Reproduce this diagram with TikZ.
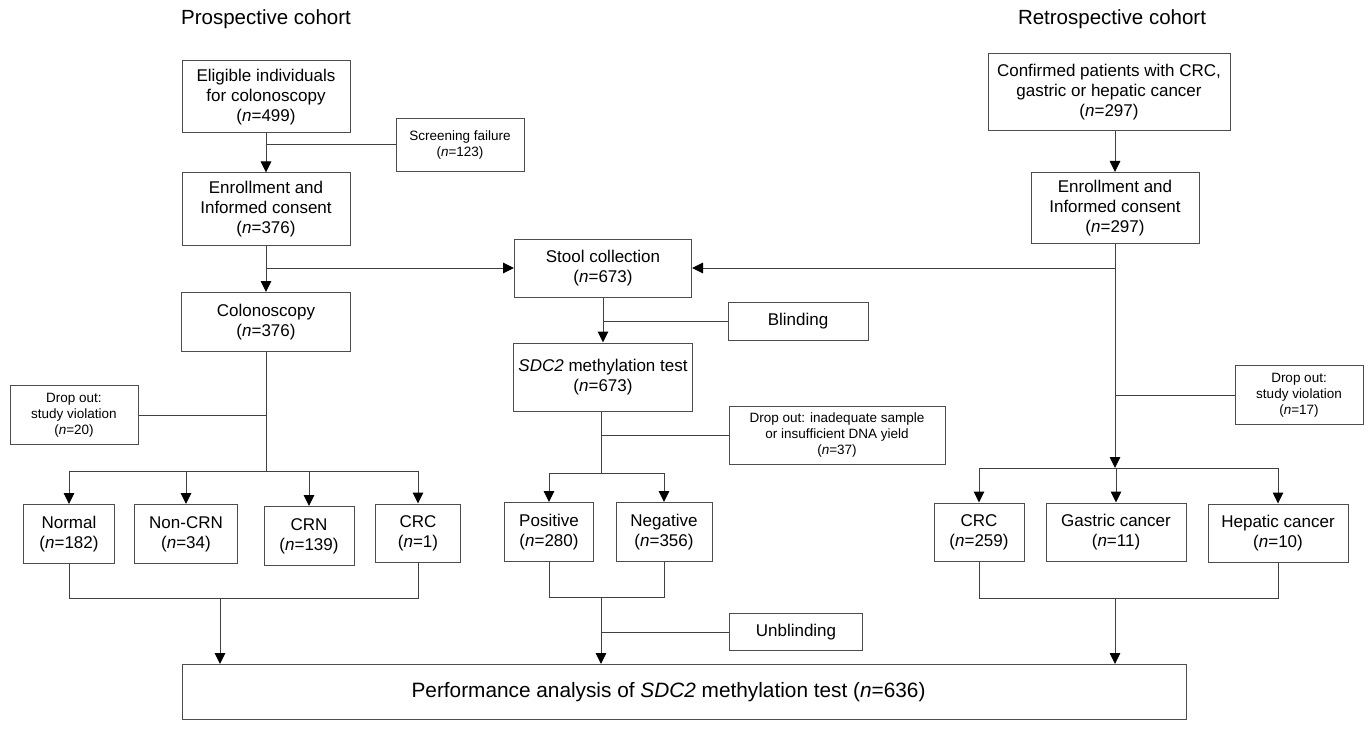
\documentclass[tikz,border=0pt]{standalone}
\usepackage{fontspec}
\setmainfont{Liberation Sans}
\usetikzlibrary{positioning,arrows.meta}

\begin{document}
\begin{tikzpicture}[
            x=1pt, y=-1pt,
            line width=1pt,
            box/.style={draw=black!70, rectangle, align=center, inner sep=0pt,
                font=\fontsize{17}{20}\selectfont},
            small/.style={box, font=\fontsize{13.5}{16}\selectfont},
            title/.style={font=\fontsize{20.5}{22}\selectfont},
            line/.style={draw=black!75},
            arr/.style={line, -{Triangle[length=11pt,width=10.5pt,color=black]}}
        ]
        \useasboundingbox (0,0) rectangle (1372,730);

        % titles
        \node[title] (tp) at (266,19) {Prospective cohort};
        \node[title] (tr) at (1112,19) {Retrospective cohort};

        % prospective cohort
        \node[box, minimum width=168pt, minimum height=72pt] (elig) at (266,97)
            {Eligible individuals\\for colonoscopy\\(\textit{n}=499)};
        \node[small, minimum width=128pt, minimum height=53pt] (scr) at (460,145)
            {Screening failure\\(\textit{n}=123)};
        \node[box, minimum width=168pt, minimum height=72pt] (enl) at (266,209)
            {Enrollment and\\Informed consent\\(\textit{n}=376)};
        \node[box, minimum width=169pt, minimum height=59pt] (colo) at (266,322)
            {Colonoscopy\\(\textit{n}=376)};
        \node[small, minimum width=128pt, minimum height=59pt] (drp1) at (74,415)
            {Drop out:\\study violation\\(\textit{n}=20)};
        \node[box, minimum width=91pt, minimum height=59pt] (norm) at (69,534)
            {Normal\\(\textit{n}=182)};
        \node[box, minimum width=103pt, minimum height=59pt] (ncrn) at (186,534)
            {Non-CRN\\(\textit{n}=34)};
        \node[box, minimum width=90pt, minimum height=59pt] (crn) at (309,536)
            {CRN\\(\textit{n}=139)};
        \node[box, minimum width=85pt, minimum height=58pt] (crc) at (418,533)
            {CRC\\(\textit{n}=1)};

        % stool test
        \node[box, minimum width=177pt, minimum height=58pt] (stool) at (603,268)
            {Stool collection\\(\textit{n}=673)};
        \node[box, minimum width=140pt, minimum height=38pt] (blind) at (798,321)
            {Blinding};
        \node[box, minimum width=179pt, minimum height=68pt] (sdc) at (603,377)
            {\textit{SDC2} methylation test\\(\textit{n}=673)};
        \node[small, minimum width=216pt, minimum height=58pt] (drp2) at (837,435)
            {Drop out: inadequate sample\\or insufficient DNA yield\\(\textit{n}=37)};
        \node[box, minimum width=89pt, minimum height=59pt] (pos) at (549,532)
            {Positive\\(\textit{n}=280)};
        \node[box, minimum width=96pt, minimum height=59pt] (neg) at (664,532)
            {Negative\\(\textit{n}=356)};
        \node[box, minimum width=133pt, minimum height=37pt] (unbl) at (796,632)
            {Unblinding};

        % retrospective cohort
        \node[box, minimum width=242pt, minimum height=77pt] (conf) at (1109,92)
            {Confirmed patients with CRC,\\gastric or hepatic cancer\\(\textit{n}=297)};
        \node[box, minimum width=168pt, minimum height=71pt] (enr) at (1115,208)
            {Enrollment and\\Informed consent\\(\textit{n}=297)};
        \node[small, minimum width=128pt, minimum height=59pt] (drp3) at (1299,395)
            {Drop out:\\study violation\\(\textit{n}=17)};
        \node[box, minimum width=90pt, minimum height=58pt] (crc2) at (979,532)
            {CRC\\(\textit{n}=259)};
        \node[box, minimum width=140pt, minimum height=58pt] (gas) at (1116,532)
            {Gastric cancer\\(\textit{n}=11)};
        \node[box, minimum width=140pt, minimum height=58pt] (hep) at (1278,533)
            {Hepatic cancer\\(\textit{n}=10)};

        \node[box, minimum width=1004pt, minimum height=55pt,
            font=\fontsize{20.8}{24}\selectfont] (perf) at (684,692)
            {Performance analysis of \textit{SDC2} methylation test (\textit{n}=636)\hspace*{31pt}};

        % branch points
        \coordinate (lb) at (266,471);
        \coordinate (lm) at (220,598);
        \coordinate (mb) at (601,473);
        \coordinate (mm) at (601,597);
        \coordinate (rb) at (1115,468);
        \coordinate (rm) at (1115,598);

        % prospective connectors
        \draw[arr] (elig) -- (enl);
        \draw[line] (scr.west) -- (scr.west -| elig.south);
        \draw[arr] (enl) -- (colo);
        \draw[arr] (enl.south |- stool.west) -- (stool.west);
        \draw[line] (colo.south) -- (lb);
        \draw[line] (drp1.east) -- (drp1.east -| lb);
        \draw[line] (lb -| norm.north) -- (lb -| crc.north);
        \foreach \n in {norm, ncrn, crn, crc}
            \draw[arr] (lb -| \n.north) -- (\n.north);
        \draw[line] (norm.south) -- (lm -| norm.south) -- (lm -| crc.south) -- (crc.south);
        \draw[arr] (lm) -- (lm |- perf.north);

        % stool connectors
        \draw[arr] (stool.south) -- (stool.south |- sdc.north);
        \draw[line] (blind.west) -- (blind.west -| stool.south);
        \draw[line] (sdc.south -| mb) -- (mb);
        \draw[line] (drp2.west) -- (drp2.west -| mb);
        \draw[line] (mb -| pos.north) -- (mb -| neg.north);
        \foreach \n in {pos, neg}
            \draw[arr] (mb -| \n.north) -- (\n.north);
        \draw[line] (pos.south) -- (mm -| pos.south) -- (mm -| neg.south) -- (neg.south);
        \draw[arr] (mm) -- (mm |- perf.north);
        \draw[line] (unbl.west) -- (unbl.west -| mm);

        % retrospective connectors
        \draw[arr] (conf.south -| enr.south) -- (enr.north);
        \draw[arr] (enr.south) -- (rb);
        \draw[arr] (enr.south |- stool.east) -- (stool.east);
        \draw[line] (drp3.west) -- (drp3.west -| rb);
        \draw[line] (rb -| crc2.north) -- (rb -| hep.north);
        \foreach \n in {crc2, gas, hep}
            \draw[arr] (rb -| \n.north) -- (\n.north);
        \draw[line] (crc2.south) -- (rm -| crc2.south) -- (rm -| hep.south) -- (hep.south);
        \draw[arr] (rm) -- (rm |- perf.north);
\end{tikzpicture}
\end{document}
